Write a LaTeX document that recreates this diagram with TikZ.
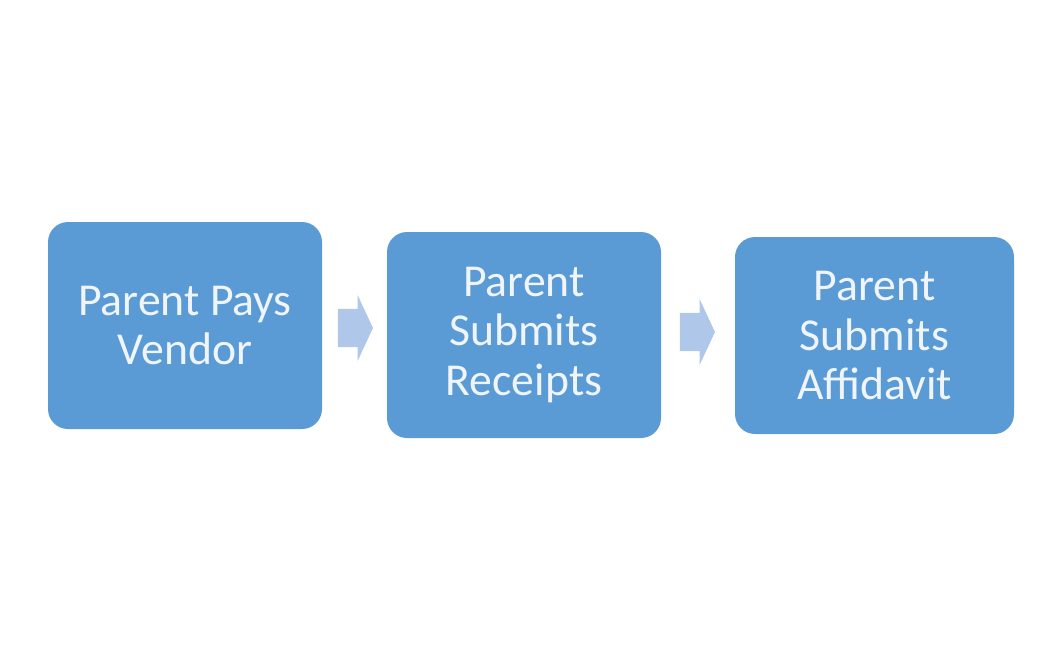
\documentclass[tikz,border=0pt]{standalone}
\usepackage{fontspec}
\setmainfont{Carlito}
\usetikzlibrary{shapes.arrows}

\definecolor{stepblue}{HTML}{5B9BD5}
\definecolor{arrowblue}{HTML}{AFC8EA}
\definecolor{steptext}{HTML}{F0F5FB}

\tikzset{
  stepbox/.style={fill=stepblue, rounded corners=0.2cm, inner sep=0pt,
    text=steptext, align=center,
    font=\fontsize{13pt}{14pt}\selectfont},
  steparrow/.style={single arrow, fill=arrowblue,
    text height=0pt, text depth=0pt, text width=0pt,
    inner xsep=0pt, inner ysep=0.185cm,
    minimum height=0.35cm,
    single arrow tip angle=130,
    single arrow head extend=0.14cm, single arrow head indent=0pt}
}

\begin{document}
\begin{tikzpicture}
  \useasboundingbox (0,0) rectangle (10.51,-6.66);
  \node[stepbox, minimum width=2.74cm, minimum height=2.07cm] (pays) at (1.85,-3.255) {Parent Pays\\Vendor};
  \node[stepbox, minimum width=2.74cm, minimum height=2.06cm] (receipts) at (5.24,-3.35) {Parent\\Submits\\Receipts};
  \node[stepbox, minimum width=2.79cm, minimum height=1.97cm] (affidavit) at (8.745,-3.355) {Parent\\Submits\\Affidavit};
  \node[steparrow] (arr1) at (3.51,-3.28) {};
  \node[steparrow] (arr2) at (6.93,-3.32) {};
\end{tikzpicture}
\end{document}
